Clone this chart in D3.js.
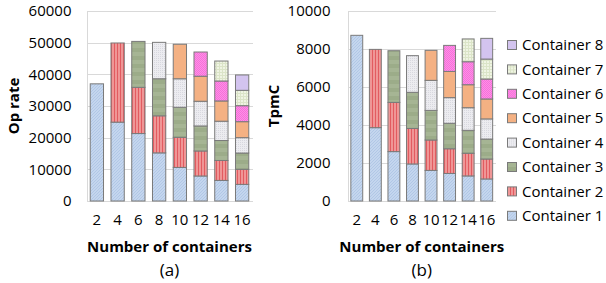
<!DOCTYPE html>
<meta charset="utf-8">
<style>
body { margin: 0; background: #fff; }
svg text { font-family: "Open Sans", "Noto Sans", sans-serif; fill: #000; }
.grid line { stroke: #d9d9d9; stroke-width: 1px; shape-rendering: crispEdges; }
.bar { stroke: #7a7a7a; stroke-width: 1px; }
</style>
<svg width="606" height="283"></svg>
<script src="https://cdnjs.cloudflare.com/ajax/libs/d3/7.8.5/d3.min.js"></script>
<script>

// number of containers on the x axis
var counts = ["2", "4", "6", "8", "10", "12", "14", "16"];
var containers = ["Container 1", "Container 2", "Container 3", "Container 4",
                  "Container 5", "Container 6", "Container 7", "Container 8"];

// (a) op rate, one array per container, one value per x category
var opC1 = [37000, 24900, 21300, 15200, 10600, 7900, 6500, 5250];
var opC2 = [0, 25000, 14600, 11700, 9500, 7900, 6300, 4750];
var opC3 = [0, 0, 14500, 11700, 9500, 7900, 6300, 5150];
var opC4 = [0, 0, 0, 11500, 9000, 7800, 6100, 4850];
var opC5 = [0, 0, 0, 0, 10900, 7900, 6400, 5050];
var opC6 = [0, 0, 0, 0, 0, 7650, 6300, 5050];
var opC7 = [0, 0, 0, 0, 0, 0, 6300, 4850];
var opC8 = [0, 0, 0, 0, 0, 0, 0, 4850];

// (b) tpmC
var tpC1 = [8720, 3860, 2600, 1950, 1610, 1450, 1320, 1160];
var tpC2 = [0, 4120, 2590, 1870, 1600, 1300, 1190, 1050];
var tpC3 = [0, 0, 2720, 1900, 1560, 1340, 1210, 1050];
var tpC4 = [0, 0, 0, 1930, 1580, 1350, 1190, 1060];
var tpC5 = [0, 0, 0, 0, 1580, 1380, 1210, 1050];
var tpC6 = [0, 0, 0, 0, 0, 1370, 1210, 1050];
var tpC7 = [0, 0, 0, 0, 0, 0, 1200, 1050];
var tpC8 = [0, 0, 0, 0, 0, 0, 0, 1090];

var opTicks = [0, 10000, 20000, 30000, 40000, 50000, 60000];
var tpTicks = [0, 2000, 4000, 6000, 8000, 10000];

var svg = d3.select("svg");
var defs = svg.append("defs");

// fill patterns, one per container
function pat(id, size, base, draw) {
  var p = defs.append("pattern").attr("id", id)
      .attr("patternUnits", "userSpaceOnUse")
      .attr("width", size).attr("height", size);
  p.append("rect").attr("width", size).attr("height", size).attr("fill", base);
  draw(p);
}
pat("p1", 3, "#c4d6ee", function(p) {
  p.append("path").attr("d", "M0,3 L3,0 M-1,1 L1,-1 M2,4 L4,2").attr("stroke", "#a9c0e3").attr("stroke-width", 0.7);
});
pat("p2", 3, "#ef9696", function(p) {
  p.append("rect").attr("x", 0).attr("width", 1).attr("height", 3).attr("fill", "#e25b60");
});
pat("p3", 8, "#a6b594", function(p) {
  p.append("rect").attr("y", 0).attr("width", 8).attr("height", 4).attr("fill", "#9cac89");
});
pat("p4", 2, "#ececf0", function(p) {
  p.append("rect").attr("width", 1).attr("height", 1).attr("fill", "#d8d8df");
});
pat("p5", 4, "#f4b183", function(p) {});
pat("p6", 2, "#ff8fe6", function(p) {
  p.append("rect").attr("width", 1).attr("height", 1).attr("fill", "#f570da");
  p.append("rect").attr("x", 1).attr("y", 1).attr("width", 1).attr("height", 1).attr("fill", "#f570da");
});
pat("p7", 3, "#eff4e3", function(p) {
  p.append("path").attr("d", "M0,0.5 H3 M0.5,0 V3").attr("stroke", "#dbe4c8").attr("stroke-width", 1);
});
pat("p8", 4, "#d3c4ef", function(p) {});

var fills = containers.map(function(c, i) { return "url(#p" + (i + 1) + ")"; });

function drawPanel(cfg) {
  var x = d3.scaleBand().domain(counts).range([cfg.left, cfg.right])
      .paddingInner(0.36).paddingOuter(0.18);
  var y = d3.scaleLinear().domain([0, cfg.max]).range([201, 11]);

  // grid
  svg.append("g").attr("class", "grid")
    .selectAll("line").data(cfg.ticks).enter().append("line")
      .attr("x1", cfg.left).attr("x2", cfg.right)
      .attr("y1", function(d) { return Math.round(y(d)) + 0.5; })
      .attr("y2", function(d) { return Math.round(y(d)) + 0.5; });
  svg.append("g").attr("class", "grid").append("line")
      .attr("x1", Math.round(cfg.left) + 0.5).attr("x2", Math.round(cfg.left) + 0.5)
      .attr("y1", y(cfg.max)).attr("y2", y(0));

  // y axis labels
  var yAxis = svg.append("g")
      .attr("transform", "translate(" + (cfg.left - cfg.labelGap) + ",0)")
      .call(d3.axisLeft(y).tickValues(cfg.ticks).tickFormat(d3.format("d")).tickSize(0).tickPadding(0));
  yAxis.select(".domain").remove();
  yAxis.selectAll("text").style("font-size", "15px").attr("fill", "#000")
      .attr("font-family", null);

  // x axis labels
  var xAxis = svg.append("g")
      .attr("transform", "translate(0,214)")
      .call(d3.axisBottom(x).tickSize(0).tickPadding(0));
  xAxis.select(".domain").remove();
  xAxis.selectAll("text").style("font-size", "15px").attr("fill", "#000")
      .attr("dy", "0.71em").attr("font-family", null);

  // stacked bars
  var rows = counts.map(function(c, i) {
    var r = {n: c};
    cfg.series.forEach(function(s, j) { r[containers[j]] = s[i]; });
    return r;
  });
  var stacked = d3.stack().keys(containers)(rows);
  svg.append("g").selectAll("g").data(stacked).enter().append("g")
      .attr("fill", function(d, i) { return fills[i]; })
    .selectAll("rect").data(function(d) { return d.filter(function(v) { return v[1] - v[0] > 0; }); })
    .enter().append("rect")
      .attr("class", "bar")
      .attr("x", function(d) { return x(d.data.n); })
      .attr("width", x.bandwidth())
      .attr("y", function(d) { return y(d[1]); })
      .attr("height", function(d) { return y(d[0]) - y(d[1]); });

  // titles
  var cx = (cfg.left + cfg.right) / 2;
  svg.append("text")
      .attr("x", cx).attr("y", 252)
      .attr("text-anchor", "middle")
      .style("font-size", "15px").style("font-weight", "bold")
      .text("Number of containers");
  svg.append("text")
      .attr("x", cx).attr("y", 276)
      .attr("text-anchor", "middle")
      .style("font-size", "17px")
      .text(cfg.label);
  svg.append("text")
      .attr("transform", "translate(" + cfg.titleX + ",106) rotate(-90)")
      .attr("text-anchor", "middle")
      .style("font-size", "15px").style("font-weight", "bold")
      .text(cfg.title);
}

drawPanel({left: 86.5, right: 252.5, max: 60000, ticks: opTicks, labelGap: 15,
  series: [opC1, opC2, opC3, opC4, opC5, opC6, opC7, opC8],
  title: "Op rate", titleX: 19, label: "(a)"});
drawPanel({left: 347.5, right: 496, max: 10000, ticks: tpTicks, labelGap: 17,
  series: [tpC1, tpC2, tpC3, tpC4, tpC5, tpC6, tpC7, tpC8],
  title: "TpmC", titleX: 279, label: "(b)"});

// legend, Container 8 at the top
var legend = svg.append("g").selectAll("g")
    .data(containers.slice().reverse()).enter().append("g")
    .attr("transform", function(d, i) { return "translate(507," + (45 + i * 24.4) + ")"; });
legend.append("rect")
    .attr("x", 0.5).attr("y", -4.5).attr("width", 9).attr("height", 9)
    .attr("fill", function(d) { return fills[containers.indexOf(d)]; })
    .attr("stroke", "#7a7a7a").attr("stroke-width", 1);
legend.append("text")
    .attr("x", 15).attr("dy", "0.35em")
    .style("font-size", "15px")
    .text(function(d) { return d; });

</script>
